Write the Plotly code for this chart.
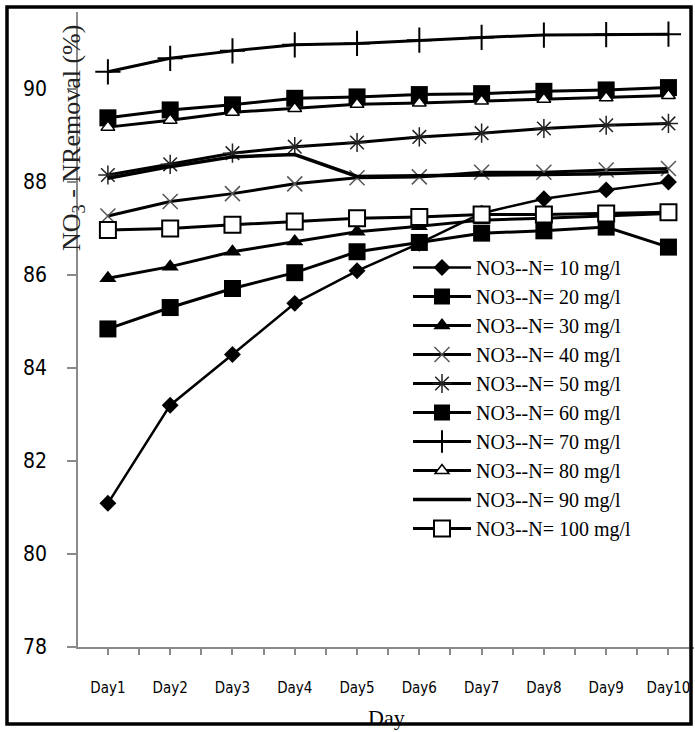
import plotly.graph_objects as go

days = ["Day1", "Day2", "Day3", "Day4", "Day5", "Day6", "Day7", "Day8", "Day9", "Day10"]
day_pos = [1, 2, 3, 4, 5, 6, 7, 8, 9, 10]

s10 = [81.09, 83.20, 84.29, 85.39, 86.09, 86.68, 87.33, 87.64, 87.83, 88.00]
s20 = [84.84, 85.30, 85.71, 86.05, 86.50, 86.70, 86.90, 86.95, 87.03, 86.60]
s30 = [85.93, 86.18, 86.50, 86.72, 86.93, 87.05, 87.18, 87.22, 87.27, 87.32]
s40 = [87.27, 87.58, 87.75, 87.96, 88.09, 88.11, 88.21, 88.21, 88.26, 88.29]
s50 = [88.15, 88.38, 88.62, 88.76, 88.85, 88.97, 89.05, 89.15, 89.22, 89.26]
s60 = [89.38, 89.55, 89.66, 89.80, 89.83, 89.88, 89.90, 89.95, 89.98, 90.03]
s70 = [90.37, 90.66, 90.82, 90.95, 90.98, 91.05, 91.11, 91.16, 91.17, 91.18]
s80 = [89.18, 89.33, 89.50, 89.58, 89.67, 89.70, 89.74, 89.78, 89.81, 89.86]
s90 = [88.08, 88.33, 88.54, 88.59, 88.12, 88.14, 88.15, 88.16, 88.18, 88.22]
s100 = [86.97, 87.00, 87.08, 87.15, 87.22, 87.25, 87.30, 87.30, 87.32, 87.35]

names = ["NO3--N= 10 mg/l", "NO3--N= 20 mg/l", "NO3--N= 30 mg/l", "NO3--N= 40 mg/l",
         "NO3--N= 50 mg/l", "NO3--N= 60 mg/l", "NO3--N= 70 mg/l", "NO3--N= 80 mg/l",
         "NO3--N= 90 mg/l", "NO3--N= 100 mg/l"]
y_ticks = [78, 80, 82, 84, 86, 88, 90]

W, H = 695, 732
ML, MR, MT, MB = 78, 1, 12, 85
PW, PH = W - ML - MR, H - MT - MB


def px(x):
    return (x - ML) / PW


def py(y):
    return (H - MB - y) / PH


series = [s10, s20, s30, s40, s50, s60, s70, s80, s90, s100]
styles = [
    dict(mode="lines+markers", line=dict(color="black", width=2.5),
         marker=dict(symbol="diamond", size=13, color="black")),
    dict(mode="lines+markers", line=dict(color="black", width=3),
         marker=dict(symbol="square", size=17, color="black")),
    dict(mode="lines+markers", line=dict(color="black", width=3),
         marker=dict(symbol="triangle-up", size=15, color="black")),
    dict(mode="lines+markers", line=dict(color="black", width=3),
         marker=dict(symbol="x-thin-open", size=15, color="#555555", line=dict(width=1.5, color="#555555"))),
    dict(mode="lines+markers", line=dict(color="black", width=3),
         marker=dict(symbol="asterisk-open", size=16, color="#222222", line=dict(width=1.5, color="#222222"))),
    dict(mode="lines+markers", line=dict(color="black", width=3),
         marker=dict(symbol="square", size=17, color="black")),
    dict(mode="lines+markers", line=dict(color="black", width=3),
         marker=dict(symbol="cross-thin-open", size=18, color="black", line=dict(width=2, color="black"))),
    dict(mode="lines+markers", line=dict(color="black", width=3),
         marker=dict(symbol="triangle-up", size=12, color="white", line=dict(width=1.5, color="black"))),
    dict(mode="lines", line=dict(color="black", width=3.5)),
    dict(mode="lines+markers", line=dict(color="black", width=3),
         marker=dict(symbol="square", size=16, color="white", line=dict(width=2, color="black"))),
]

fig = go.Figure()
for name, vals, st in zip(names, series, styles):
    fig.add_trace(go.Scatter(x=day_pos, y=vals, name=name, **st))

axis_col = "#8a8a8a"
fig.update_layout(
    width=W, height=H,
    margin=dict(l=ML, r=MR, t=MT, b=MB, pad=0),
    paper_bgcolor="white", plot_bgcolor="white",
    showlegend=True,
    legend=dict(
        x=px(408), y=py(248), xanchor="left", yanchor="top",
        font=dict(family="Liberation Serif, Times New Roman, serif", size=20, color="black"),
        bgcolor="rgba(0,0,0,0)", itemwidth=58, tracegroupgap=0,
    ),
    xaxis=dict(
        range=[0.52, 10.41], tickmode="array", tickvals=day_pos, ticktext=days,
        showgrid=False, zeroline=False, showline=True, linecolor=axis_col, linewidth=1.5,
        ticks="outside", ticklen=6, tickcolor=axis_col, tickwidth=1.5,
        minor=dict(tickvals=[i + 0.5 for i in range(0, 11)], ticks="outside", ticklen=6,
                   tickcolor=axis_col, tickwidth=1.5, showgrid=False),
        tickfont=dict(family="Liberation Sans Narrow, DejaVu Sans Condensed, Liberation Sans, sans-serif",
                      size=15, color="black"),
        ticklabelstandoff=20,
    ),
    yaxis=dict(
        range=[78, 78 + PH / 46.5], tickmode="array", tickvals=y_ticks,
        showgrid=False, zeroline=False, showline=True, linecolor=axis_col, linewidth=1.5,
        ticks="outside", ticklen=9, tickcolor=axis_col, tickwidth=1.5,
        tickfont=dict(family="Liberation Sans Narrow, DejaVu Sans Condensed, Liberation Sans, sans-serif",
                      size=21, color="black"),
        ticklabelstandoff=16,
    ),
    shapes=[dict(type="rect", xref="paper", yref="paper",
                 x0=px(7), x1=px(691), y0=py(724), y1=py(7),
                 line=dict(color="black", width=3.5), fillcolor="rgba(0,0,0,0)", layer="above")],
    annotations=[
        dict(text="NO<sub>3</sub> - NRemoval (%)", xref="paper", yref="paper",
             x=px(73), y=py(138), xanchor="center", yanchor="middle", textangle=-90,
             showarrow=False,
             font=dict(family="Liberation Serif, Times New Roman, serif", size=26, color="#222222")),
        dict(text="Day", xref="paper", yref="paper", x=px(386), y=py(717),
             xanchor="center", yanchor="middle", showarrow=False,
             font=dict(family="Liberation Serif, Times New Roman, serif", size=22, color="black")),
    ],
)

fig.write_html("out.html", config={"displayModeBar": False},
               post_script="document.body.style.margin='0';document.body.style.padding='0';")
